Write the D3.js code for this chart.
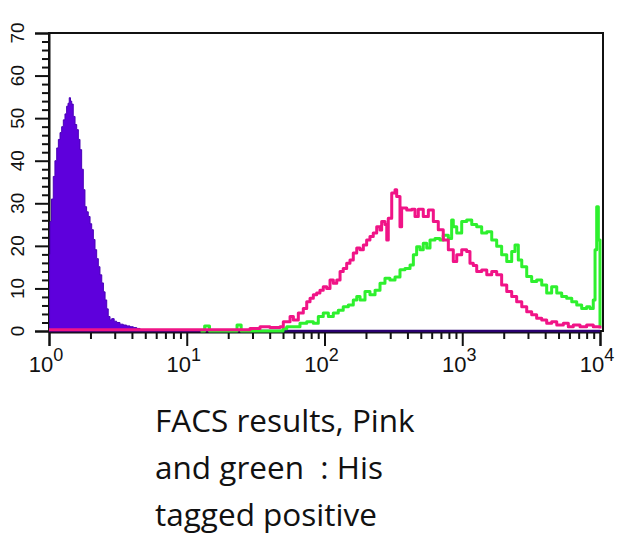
<!DOCTYPE html>
<html>
<head>
<meta charset="utf-8">
<script src="https://cdn.jsdelivr.net/npm/d3@7"></script>
<style>
  html, body { margin: 0; padding: 0; background: #ffffff; }
  svg { display: block; }
</style>
</head>
<body>
<svg id="chart" width="627" height="541"></svg>
<script>
// ---- data: x in log10(fluorescence), y = events per channel ----
const decades = [0, 1, 2, 3, 4];
const yTicks = [0, 10, 20, 30, 40, 50, 60, 70];

const isotypeLog = [0.000, 0.004, 0.007, 0.018, 0.031, 0.043, 0.056, 0.068, 0.080, 0.092, 0.104, 0.116, 0.128, 0.138, 0.147, 0.156, 0.165, 0.176, 0.189, 0.201, 0.213, 0.225, 0.237, 0.249, 0.261, 0.273, 0.285, 0.298, 0.310, 0.322, 0.334, 0.346, 0.358, 0.370, 0.383, 0.395, 0.407, 0.419, 0.430, 0.443, 0.455, 0.473, 0.491, 0.515, 0.539, 0.563, 0.588, 0.612, 0.637, 0.661];
const isotypeCount = [0, 18, 25.7, 31, 36.3, 40, 43, 45, 46.6, 48, 49.6, 51, 52.8, 53.5, 54.8, 54, 53.3, 50.4, 48.5, 47.3, 45, 42.6, 38, 33.2, 29.2, 28, 26.9, 25.2, 23.8, 21.5, 19.1, 17, 15.1, 13.2, 11.3, 9.2, 7.3, 5.2, 3.4, 2.6, 2.9, 2.3, 2.0, 1.6, 1.4, 1.2, 1.0, 0.8, 0.6, 0];

const greenLog = [1.100, 1.130, 1.165, 1.340, 1.365, 1.395, 1.699, 1.726, 1.798, 1.822, 1.871, 1.919, 1.955, 1.991, 2.028, 2.064, 2.100, 2.136, 2.173, 2.209, 2.234, 2.258, 2.294, 2.330, 2.367, 2.403, 2.439, 2.475, 2.512, 2.548, 2.584, 2.621, 2.645, 2.669, 2.693, 2.717, 2.742, 2.766, 2.802, 2.838, 2.862, 2.899, 2.923, 2.935, 2.960, 2.996, 3.032, 3.069, 3.105, 3.141, 3.178, 3.214, 3.250, 3.286, 3.323, 3.359, 3.383, 3.407, 3.432, 3.468, 3.504, 3.540, 3.577, 3.613, 3.649, 3.686, 3.722, 3.758, 3.795, 3.831, 3.867, 3.903, 3.927, 3.951, 3.964, 3.976, 3.988, 4.000];
const greenCount = [0, 1.2, 0, 0, 1.4, 0, 0.5, 1.0, 1.0, 1.8, 2.2, 1.8, 3.4, 4.2, 3.4, 4.2, 4.9, 5.7, 6.1, 7.3, 8.1, 7.3, 9.3, 8.5, 9.6, 11.2, 12.4, 12.0, 12.7, 14.4, 14.7, 15.5, 17.9, 19.8, 19.1, 20.6, 19.5, 21.4, 21.7, 21.4, 22.5, 21.7, 26.1, 24.5, 23.0, 25.7, 26.1, 25.0, 24.5, 23.0, 23.3, 21.4, 19.9, 17.9, 16.3, 18.7, 20.2, 16.7, 15.1, 12.8, 11.6, 12.0, 10.8, 8.9, 10.4, 8.9, 8.1, 7.7, 6.9, 6.1, 5.3, 5.7, 5.3, 7.3, 19.1, 29.2, 21.4, 1.0];

const pinkLog = [0.000, 0.661, 1.096, 1.459, 1.532, 1.604, 1.677, 1.701, 1.750, 1.774, 1.810, 1.846, 1.871, 1.895, 1.919, 1.943, 1.967, 1.991, 2.016, 2.040, 2.064, 2.089, 2.113, 2.136, 2.161, 2.185, 2.209, 2.234, 2.258, 2.282, 2.306, 2.330, 2.354, 2.379, 2.403, 2.415, 2.439, 2.452, 2.463, 2.488, 2.512, 2.524, 2.548, 2.560, 2.597, 2.633, 2.657, 2.681, 2.717, 2.754, 2.790, 2.826, 2.862, 2.899, 2.935, 2.960, 2.996, 3.032, 3.056, 3.080, 3.105, 3.141, 3.178, 3.214, 3.250, 3.286, 3.323, 3.359, 3.395, 3.432, 3.468, 3.504, 3.540, 3.577, 3.613, 3.649, 3.686, 3.734, 3.770, 3.806, 3.855, 3.903, 3.951, 4.000];
const pinkCount = [0.3, 0.3, 0.3, 0.6, 1.0, 0.8, 1.0, 2.2, 3.4, 2.6, 4.2, 5.3, 6.9, 7.7, 8.5, 8.9, 9.6, 10.4, 10.0, 12.0, 11.2, 12.0, 14.0, 14.7, 15.9, 16.7, 18.3, 19.5, 19.1, 20.2, 21.4, 22.2, 23.0, 24.5, 23.7, 25.7, 25.0, 21.4, 26.5, 32.4, 33.2, 31.6, 24.5, 28.9, 28.4, 28.6, 26.9, 28.6, 26.9, 28.4, 25.7, 23.8, 21.4, 19.1, 16.3, 17.9, 19.1, 18.7, 15.9, 15.4, 14.0, 14.3, 13.2, 14.0, 13.2, 10.8, 9.3, 8.1, 6.9, 5.7, 4.5, 3.8, 3.0, 2.6, 1.8, 2.2, 1.4, 1.8, 1.0, 1.4, 1.0, 1.4, 1.0, 0.6];

const captionLines = ["FACS results, Pink", "and green  : His", "tagged positive"];

// ---- layout ----
const svg = d3.select("#chart");
const x = d3.scaleLinear().domain([0, 4]).range([49, 600]);
const y = d3.scaleLinear().domain([0, 70]).range([331, 33]);

const zip = (xs, ys) => xs.map((v, i) => ({ v, c: ys[i] }));
const isotype = zip(isotypeLog, isotypeCount);
const green = zip(greenLog, greenCount);
const pink = zip(pinkLog, pinkCount);

// frame
svg.append("rect")
  .attr("x", x(0)).attr("y", y(70))
  .attr("width", x(4) + 3 - x(0)).attr("height", y(0) - y(70))
  .attr("fill", "none").attr("stroke", "#111").attr("stroke-width", 2);

// x axis ticks (downward)
const minorX = [];
decades.slice(0, -1).forEach(d => { for (let k = 2; k <= 9; k++) minorX.push(d + Math.log10(k)); });
svg.append("g").attr("transform", `translate(0,${y(0) + 1})`)
  .call(d3.axisBottom(x).tickValues(minorX).tickSize(7).tickFormat(""))
  .call(g => g.select(".domain").remove())
  .call(g => g.selectAll("line").attr("stroke", "#111").attr("stroke-width", 2));
svg.append("g").attr("transform", `translate(0,${y(0) + 1})`)
  .call(d3.axisBottom(x).tickValues(decades).tickSize(14).tickFormat(""))
  .call(g => g.select(".domain").attr("stroke", "#111").attr("stroke-width", 2))
  .call(g => g.selectAll("line").attr("stroke", "#111").attr("stroke-width", 2));

// x tick labels 10^n
const xl = svg.append("g").selectAll("text").data(decades).join("text")
  .attr("x", d => x(d) - 3).attr("y", 372)
  .attr("text-anchor", "middle")
  .attr("font-family", "Liberation Sans, Arial, sans-serif")
  .attr("font-size", 22).attr("fill", "#111");
xl.append("tspan").text("10");
xl.append("tspan").attr("dy", -11).attr("font-size", 18).text(d => d);

// y axis
const minorY = d3.range(0, 71, 2).filter(v => v % 10 !== 0);
svg.append("g").attr("transform", `translate(${x(0)},0)`)
  .call(d3.axisLeft(y).tickValues(minorY).tickSize(7).tickFormat(""))
  .call(g => g.select(".domain").remove())
  .call(g => g.selectAll("line").attr("stroke", "#111").attr("stroke-width", 2));
svg.append("g").attr("transform", `translate(${x(0)},0)`)
  .call(d3.axisLeft(y).tickValues(yTicks).tickSize(14).tickFormat(""))
  .call(g => g.select(".domain").attr("stroke", "#111").attr("stroke-width", 2))
  .call(g => g.selectAll("line").attr("stroke", "#111").attr("stroke-width", 2));
svg.append("g").selectAll("text").data(yTicks).join("text")
  .attr("transform", d => `translate(17,${y(d)}) rotate(-90)`)
  .attr("text-anchor", "middle").attr("dominant-baseline", "central")
  .attr("font-family", "Liberation Sans, Arial, sans-serif")
  .attr("font-size", 19).attr("fill", "#111")
  .text(d => d);

// curves
const area = d3.area().x(d => x(d.v)).y0(y(0)).y1(d => y(d.c)).curve(d3.curveStepAfter);
const line = d3.line().x(d => x(d.v)).y(d => y(d.c)).curve(d3.curveStepAfter);

svg.append("path").datum(isotype).attr("d", area)
  .attr("fill", "#5e00dc").attr("stroke", "#4a00b8").attr("stroke-width", 1);
svg.append("line")
  .attr("x1", x(0)).attr("x2", x(4)).attr("y1", y(0)).attr("y2", y(0))
  .attr("stroke", "#2a0070").attr("stroke-width", 2.5);
svg.append("path").datum(green).attr("d", line)
  .attr("fill", "none").attr("stroke", "#2ef02e").attr("stroke-width", 3).attr("stroke-linejoin", "round");
svg.append("path").datum(pink).attr("d", line)
  .attr("fill", "none").attr("stroke", "#f01487").attr("stroke-width", 3).attr("stroke-linejoin", "round");

// caption
svg.append("g").selectAll("text").data(captionLines).join("text")
  .attr("x", 155).attr("y", (d, i) => 432 + i * 47)
  .attr("font-family", "'Open Sans', Lato, sans-serif")
  .attr("font-size", 31.5).attr("fill", "#111")
  .attr("xml:space", "preserve")
  .style("white-space", "pre")
  .text(d => d);
</script>
</body>
</html>
